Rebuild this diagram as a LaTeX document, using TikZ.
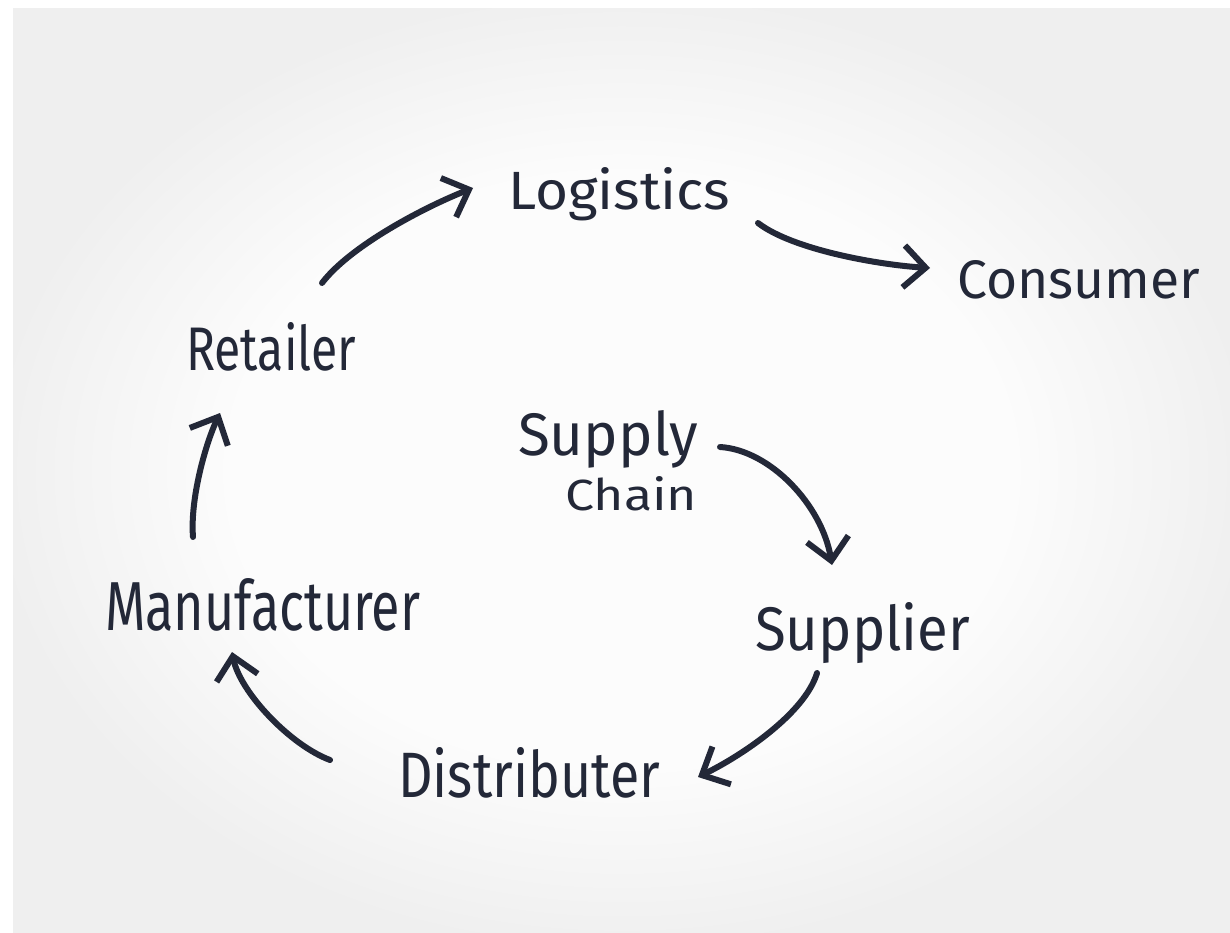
\documentclass[tikz,border=0pt]{standalone}
\usepackage{fontspec}
\setmainfont{Fira Sans}
\usetikzlibrary{arrows.meta,calc}

\definecolor{ink}{RGB}{35,40,56}
\definecolor{bgin}{RGB}{252,252,252}
\definecolor{bgout}{RGB}{239,239,239}
\pgfdeclareradialshading{vignette}{\pgfpoint{0bp}{0bp}}{%
  color(0bp)=(bgin); color(16bp)=(bgin); color(26bp)=(bgout); color(50bp)=(bgout)}

% scale a word to a given width and height above its baseline
\newcommand\handword[3]{\resizebox{#1}{#2}{#3}}

\begin{document}
\begin{tikzpicture}[x=1pt,y=-1pt,
  word/.style={inner sep=0pt, anchor=base west, text=ink},
  flow/.style={draw=ink, line width=6pt, line cap=round, line join=round,
    -{Straight Barb[length=22pt,width=42pt]}}]

  % paper with a soft vignette
  \useasboundingbox (0,0) rectangle (1230,933);
  \fill[white] (0,0) rectangle (1230,933);
  \shade[shading=vignette] (13,9) rectangle (1230,933);

  % words
  \node[word] (log) at (508,210) {\handword{222pt}{42pt}{Logistics}};
  \node[word] (con) at (957,298) {\handword{243pt}{38pt}{Consumer}};
  \node[word] (ret) at (186,370) {\handword{170pt}{48pt}{Retailer}};
  \node[word] (sc)  at (518,455) {\handword{180pt}{45pt}{Supply}};
  \node[word] (ch)  at (565,510) {\handword{132pt}{34pt}{Chain}};
  \node[word] (man) at (105,630) {\handword{315pt}{52pt}{Manufacturer}};
  \node[word] (sup) at (755,650) {\handword{215pt}{48pt}{Supplier}};
  \node[word] (dis) at (398,797) {\handword{262pt}{50pt}{Distributer}};

  % connectors
  \draw[flow] ($(ret.base west)+(136,-87)$) .. controls +(29,-38) and +(-46,18) .. ($(log.base west)+(-35,-22)$);
  \draw[flow] ($(log.base west)+(250,13)$) .. controls +(35,27) and +(-50,-3) .. ($(con.base west)+(-27,-30)$);
  \draw[flow] ($(sc.base west)+(202,-8)$) .. controls +(50,3) and +(-10,-60) .. ($(sup.base west)+(77,-85)$);
  \draw[flow] ($(sup.base west)+(62,23)$) .. controls +(-12,40) and +(45,-22) .. ($(dis.base west)+(300,-20)$);
  \draw[flow] ($(dis.base west)+(-68,-37)$) .. controls +(-40,-15) and +(8,40) .. ($(man.base west)+(127,22)$);
  \draw[flow] ($(man.base west)+(88,-93)$) .. controls +(-3,-37) and +(-15,32) .. ($(ret.base west)+(34,43)$);
\end{tikzpicture}
\end{document}
